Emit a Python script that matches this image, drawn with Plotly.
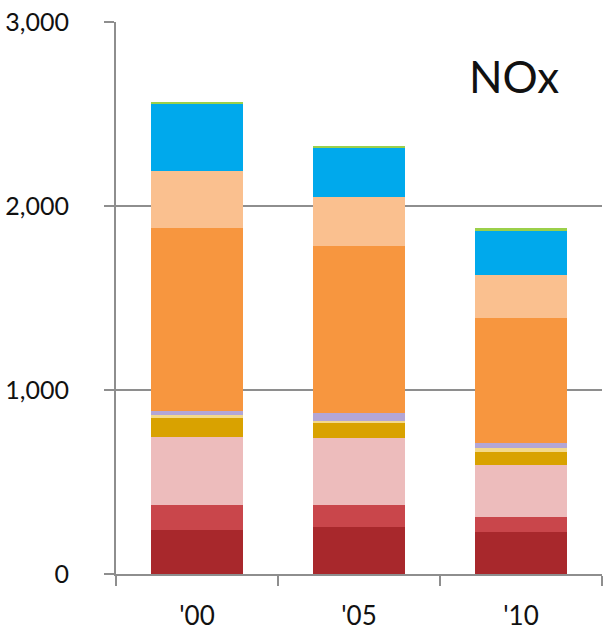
import plotly.graph_objects as go

# NOx emissions by source, stacked per year
years = ["'00", "'05", "'10"]

series_names = [
    "Source A", "Source B", "Source C", "Source D", "Source E",
    "Source F", "Source G", "Source H", "Source I", "Source J",
]
series_values = [
    [239, 257, 230],   # dark red
    [136, 118, 81],    # red
    [367, 362, 281],   # light pink
    [104, 82, 73],     # gold
    [18, 14, 18],      # pale yellow
    [23, 44, 27],      # lavender
    [993, 903, 681],   # orange
    [312, 267, 234],   # peach
    [362, 267, 241],   # blue
    [11, 12, 13],      # green
]
series_colors = [
    "#A8282C", "#C9464B", "#EDBCBC", "#D9A200", "#F3D98A",
    "#B3A6D6", "#F7963F", "#FAC08F", "#00A9EC", "#9BD04A",
]

y_ticks = [0, 1000, 2000, 3000]
y_tick_text = ["0", "1,000", "2,000", "3,000"]

fig = go.Figure()
for name, vals, col in zip(series_names, series_values, series_colors):
    fig.add_trace(go.Bar(
        x=years, y=vals, name=name,
        marker=dict(color=col, line=dict(width=0)),
    ))

font_family = "Lato, 'Open Sans', sans-serif"

fig.update_layout(
    barmode="stack",
    bargap=0.43,
    width=605, height=630,
    margin=dict(l=116, r=3, t=22, b=56),
    paper_bgcolor="white",
    plot_bgcolor="white",
    showlegend=False,
    font=dict(family=font_family, color="#111111"),
    annotations=[dict(
        text="NOx", xref="paper", yref="paper",
        x=0.819, y=0.902, xanchor="center", yanchor="middle",
        showarrow=False, font=dict(size=44, family=font_family, color="#111111"),
    )],
)

fig.update_xaxes(
    type="category",
    automargin=False,
    showline=True, linecolor="#8E8E8E", linewidth=2,
    ticks="outside", tickson="boundaries", ticklen=10, tickwidth=2, tickcolor="#8E8E8E",
    ticklabelstandoff=18,
    tickfont=dict(size=26, family=font_family, color="#111111"),
    showgrid=False,
)
fig.update_yaxes(
    range=[0, 3000],
    automargin=False,
    tickvals=y_ticks, ticktext=y_tick_text,
    showline=True, linecolor="#8E8E8E", linewidth=2,
    ticks="outside", ticklen=10, tickwidth=2, tickcolor="#8E8E8E",
    ticklabelstandoff=30,
    showgrid=True, gridcolor="#8E8E8E", gridwidth=2,
    zeroline=False,
    tickfont=dict(size=25, family=font_family, color="#111111"),
)

fig.write_html("out.html")
